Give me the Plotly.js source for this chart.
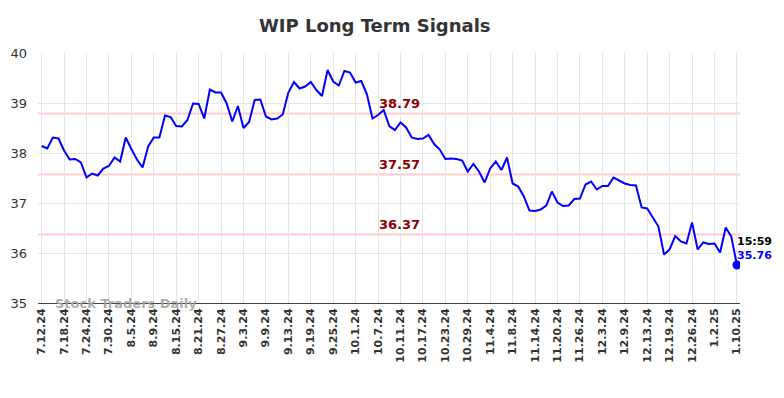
<!DOCTYPE html>
<html>
<head>
<meta charset="utf-8">
<script src="https://cdn.plot.ly/plotly-3.0.1.min.js"></script>
<style>html,body{margin:0;padding:0;background:#fff;}#chart{width:784px;height:398px;}</style>
</head>
<body>
<div id="chart"></div>
<script>
const tickLabels = ["7.12.24","7.18.24","7.24.24","7.30.24","8.5.24","8.9.24","8.15.24","8.21.24","8.27.24","9.3.24","9.9.24","9.13.24","9.19.24","9.25.24","10.1.24","10.7.24","10.11.24","10.17.24","10.23.24","10.29.24","11.4.24","11.8.24","11.14.24","11.20.24","11.26.24","12.3.24","12.9.24","12.13.24","12.19.24","12.26.24","1.2.25","1.10.25"];
const prices = [
  38.14,38.09,38.31,38.29,38.05,37.87,37.88,37.81,37.51,37.59,
  37.55,37.69,37.74,37.91,37.83,38.31,38.08,37.87,37.71,38.13,
  38.31,38.31,38.75,38.72,38.54,38.53,38.66,38.99,38.98,38.69,
  39.27,39.21,39.21,38.99,38.63,38.94,38.50,38.62,39.06,39.07,
  38.73,38.67,38.69,38.77,39.21,39.42,39.29,39.33,39.42,39.26,
  39.14,39.66,39.43,39.35,39.64,39.61,39.41,39.44,39.18,38.69,
  38.76,38.86,38.54,38.46,38.61,38.51,38.31,38.28,38.29,38.36,
  38.18,38.07,37.88,37.89,37.88,37.85,37.63,37.78,37.63,37.41,
  37.69,37.83,37.66,37.91,37.39,37.33,37.13,36.85,36.84,36.87,
  36.95,37.23,37.01,36.94,36.95,37.08,37.09,37.37,37.43,37.27,
  37.34,37.34,37.51,37.45,37.39,37.36,37.35,36.91,36.89,36.71,
  36.53,35.97,36.07,36.34,36.23,36.19,36.61,36.07,36.21,36.18,
  36.19,36.01,36.51,36.33,35.76
];
const levels = [38.79, 37.57, 36.37];
const levelLabels = ["38.79", "37.57", "36.37"];
const lastTime = "15:59";
const lastPrice = "35.76";

const xs = prices.map((_, i) => i);
const tickVals = tickLabels.map((_, i) => i * 4);
const tickText = tickLabels.map(t => '<b>' + t + '</b>');
const lastIdx = prices.length - 1;

const traces = [
  {x: xs, y: prices, type: 'scatter', mode: 'lines', line: {color: '#0000ff', width: 2}, hoverinfo: 'skip'},
  {x: [lastIdx], y: [prices[lastIdx]], type: 'scatter', mode: 'markers', marker: {color: '#0000ff', size: 9}, hoverinfo: 'skip'}
];

const shapes = levels.map(v => ({type: 'line', xref: 'paper', x0: 0, x1: 1, yref: 'y', y0: v, y1: v, line: {color: '#ffcccc', width: 2}, layer: 'below'}));

const annotations = levels.map((v, k) => ({
  x: 63.8, y: v, xref: 'x', yref: 'y', text: '<b>' + levelLabels[k] + '</b>', showarrow: false,
  yanchor: 'bottom', yshift: 1, font: {family: 'DejaVu Sans', size: 13, color: '#8b0000'}
}));
annotations.push({x: lastIdx, y: prices[lastIdx], xref: 'x', yref: 'y', text: '<b>' + lastTime + '</b>', showarrow: false, xanchor: 'left', yanchor: 'middle', yshift: 24, xshift: -2, font: {family: 'DejaVu Sans', size: 11, color: '#000'}});
annotations.push({x: lastIdx, y: prices[lastIdx], xref: 'x', yref: 'y', text: '<b>' + lastPrice + '</b>', showarrow: false, xanchor: 'left', yanchor: 'middle', yshift: 10, xshift: -2, font: {family: 'DejaVu Sans', size: 11, color: '#0000ff'}});
annotations.push({x: 2.0, y: 35, xref: 'x', yref: 'y', text: '<b>Stock Traders Daily</b>', showarrow: false, xanchor: 'left', yanchor: 'middle', font: {family: 'DejaVu Sans', size: 13, color: 'rgba(160,160,160,0.85)'}});

const layout = {
  width: 784, height: 398,
  margin: {l: 38, r: 44, t: 53, b: 95, pad: 0},
  paper_bgcolor: '#fff', plot_bgcolor: '#fff',
  showlegend: false,
  title: {text: '<b>WIP Long Term Signals</b>', x: 0.478, xref: 'container', y: 0.935, yref: 'container', yanchor: 'middle', font: {family: 'DejaVu Sans', size: 18, color: '#333'}},
  xaxis: {
    type: 'linear', range: [-0.65, 124.55], tickmode: 'array', tickvals: tickVals, ticktext: tickText,
    tickangle: -90, tickfont: {family: 'DejaVu Sans', size: 11, color: '#333'},
    showgrid: true, gridcolor: '#e6e6e6', gridwidth: 1, zeroline: false,
    showline: true, linecolor: '#444', linewidth: 1, ticks: '', fixedrange: true
  },
  yaxis: {
    range: [35, 40], tickvals: [35, 36, 37, 38, 39, 40], ticktext: ['35','36','37','38','39','40'],
    tickfont: {family: 'DejaVu Sans', size: 13, color: '#333'},
    showgrid: true, gridcolor: '#e6e6e6', gridwidth: 1, zeroline: false, showline: false, ticks: '',
    ticklabelstandoff: 10, fixedrange: true
  },
  shapes: shapes,
  annotations: annotations
};

Plotly.newPlot('chart', traces, layout, {displayModeBar: false, staticPlot: true});
</script>
</body>
</html>
